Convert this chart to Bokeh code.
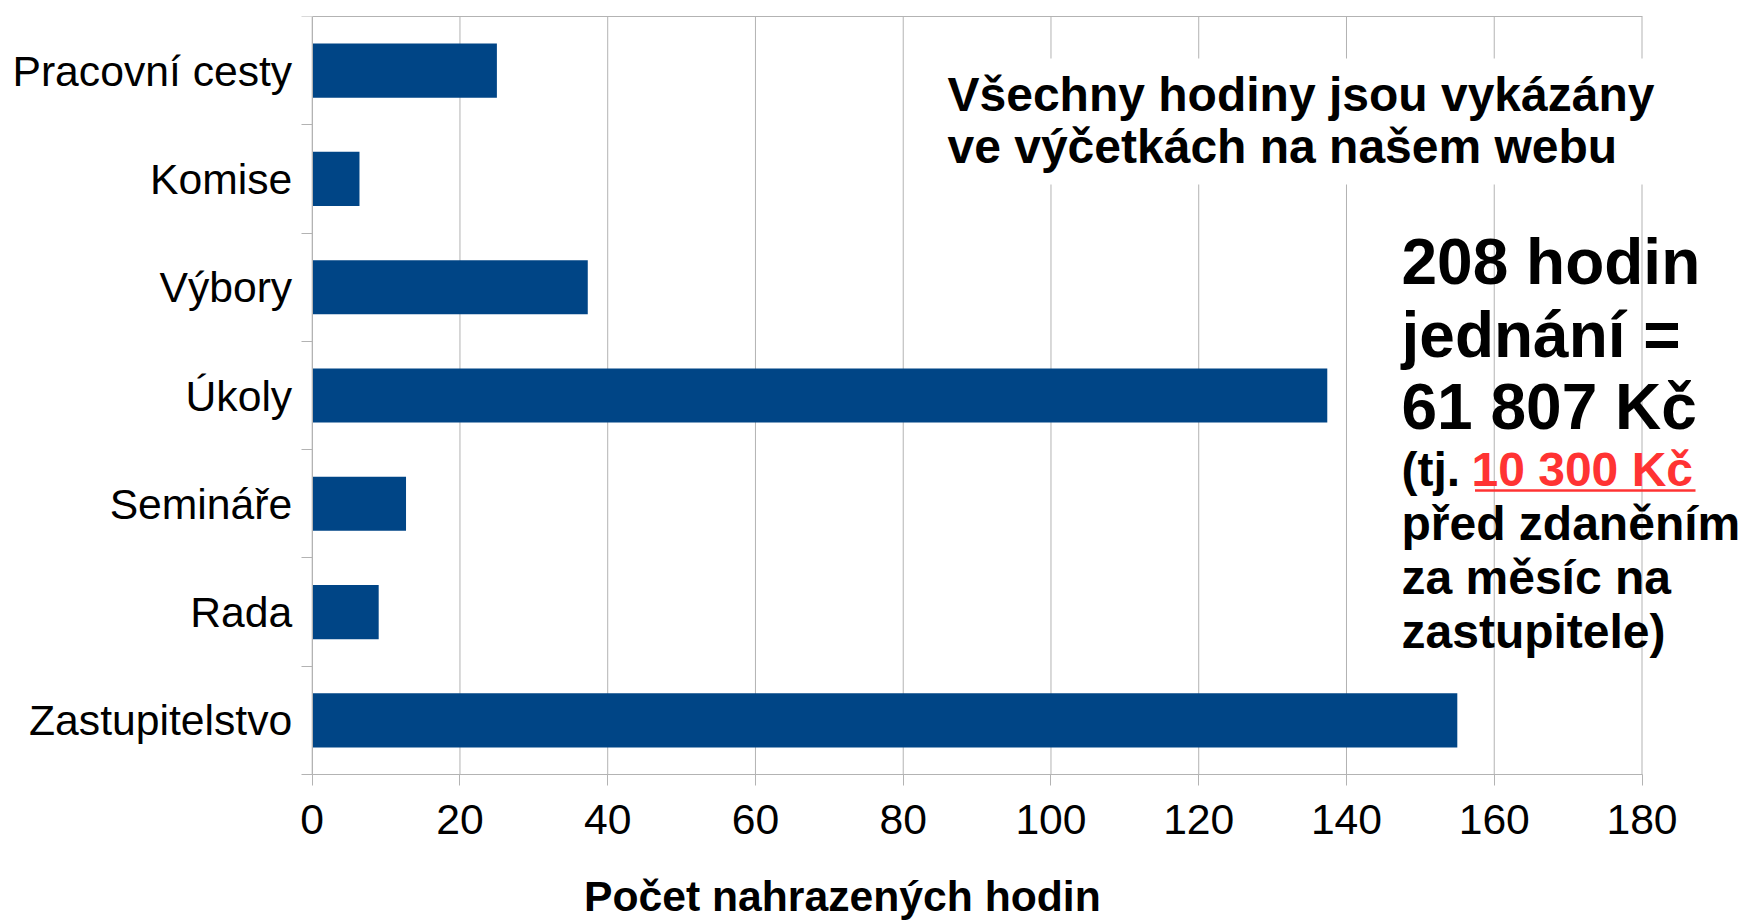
from bokeh.plotting import figure
from bokeh.models import (Range1d, FixedTicker, Label, BoxAnnotation, LinearAxis)
from bokeh.embed import file_html
from bokeh.resources import INLINE

# ---- data ----
categories = ["Pracovní cesty", "Komise", "Výbory", "Úkoly", "Semináře", "Rada", "Zastupitelstvo"]
hours = [25.0, 6.4, 37.3, 137.4, 12.7, 9.0, 155.0]
x_ticks = [0, 20, 40, 60, 80, 100, 120, 140, 160, 180]
axis_title = "Počet nahrazených hodin"
note_lines = ["Všechny hodiny jsou vykázány", "ve výčetkách na našem webu"]
big_lines = ["208 hodin", "jednání =", "61 807 Kč"]
small_prefix = "(tj. "
small_red = "10 300 Kč"
small_lines = ["před zdaněním", "za měsíc na", "zastupitele)"]

# ---- layout (page pixels, top-left origin) ----
W, H = 1745, 922
FT = 16                   # frame top (top border line)
AXIS_X = 311.7            # where x = 0 sits (y axis line)
AXIS_Y = 774              # where y = 0 sits (x axis line)
X180 = 1641.5             # where the 180 gridline sits
n = len(categories)
KX = (X180 - AXIS_X) / x_ticks[-1]
X_MIN, X_END = -AXIS_X / KX, (W - AXIS_X) / KX      # frame spans the full width
Y_MIN = -n * (H - AXIS_Y) / (AXIS_Y - FT)           # frame runs to the bottom edge
FONT = "Liberation Sans"
BAR = "#004586"
GRID = "#b3b3b3"
RED = "#ff3333"
BASE_FIX = 0.36           # baseline correction for Label text (x font size)

ypos = [n - i - 0.5 for i in range(n)]

p = figure(width=W, height=H, output_backend="svg", toolbar_location=None,
           x_range=Range1d(X_MIN, X_END), y_range=Range1d(Y_MIN, n),
           min_border_left=0, min_border_top=FT, min_border_right=0,
           min_border_bottom=0, background_fill_color="white",
           border_fill_color="white", outline_line_color=None)

# vertical gridlines, only over the category area
p.segment(x0=x_ticks, y0=[0] * len(x_ticks), x1=x_ticks, y1=[n] * len(x_ticks),
          line_color=GRID, line_width=1, level="underlay")

p.hbar(y=ypos, right=hours, left=0, height=0.5, color=BAR, line_color=None)

# x axis, pinned at y = 0 inside the frame
xa = p.xaxis[0]
xa.fixed_location = 0
xa.ticker = FixedTicker(ticks=x_ticks)
xa.bounds = (x_ticks[0], x_ticks[-1])
xa.axis_line_color = GRID
xa.major_tick_line_color = GRID
xa.major_tick_out = 11
xa.major_tick_in = 0
xa.minor_tick_line_color = None
xa.major_label_text_font = FONT
xa.major_label_text_font_size = "42.67px"
xa.major_label_text_color = "black"
xa.major_label_standoff = 19
p.xgrid.visible = False

# top border line as a bare axis
top = LinearAxis(ticker=FixedTicker(ticks=[]), bounds=(x_ticks[0], x_ticks[-1]),
                 axis_line_color=GRID, major_tick_line_color=None,
                 minor_tick_line_color=None, major_tick_out=0, major_tick_in=0,
                 major_label_text_font_size="0px", major_label_standoff=0)
p.add_layout(top, "above")

# y axis pinned at x = 0: labels at centres, tick marks at category boundaries
ya = p.yaxis[0]
ya.fixed_location = 0
ya.ticker = FixedTicker(ticks=ypos, minor_ticks=list(range(n + 1)))
ya.bounds = (0, n)
ya.major_label_overrides = {y: c for y, c in zip(ypos, categories)}
ya.axis_line_color = GRID
ya.major_tick_line_color = None
ya.major_tick_out = 0
ya.major_tick_in = 0
ya.minor_tick_line_color = GRID
ya.minor_tick_out = 11
ya.minor_tick_in = 0
ya.major_label_text_font = FONT
ya.major_label_text_font_size = "42.67px"
ya.major_label_text_color = "black"
ya.major_label_standoff = 9
p.ygrid.grid_line_color = None


# helpers: page coords -> frame screen units (frame = whole width, down to bottom)
def sx(x):
    return x


def sy(y):
    return H - y


def label(x, base, text, size_px, color="black"):
    p.add_layout(Label(x=sx(x), y=sy(base - BASE_FIX * size_px),
                       x_units="screen", y_units="screen",
                       text=text, text_font=FONT, text_font_size=f"{size_px}px",
                       text_font_style="bold", text_color=color,
                       text_baseline="alphabetic", text_align="left"))


def box(l, r, t, b, color):
    p.add_layout(BoxAnnotation(left=sx(l), right=sx(r), top=sy(t), bottom=sy(b),
                               left_units="screen", right_units="screen",
                               top_units="screen", bottom_units="screen",
                               fill_color=color, fill_alpha=1.0, line_color=None,
                               level="annotation"))


# white box behind the top note
box(933, 1662, 58, 184, "white")
for i, t in enumerate(note_lines):
    label(947, 111.7 + i * 51.6, t, 48)

for i, t in enumerate(big_lines):
    label(1401, 285 + i * 72.5, t, 64)

label(1401, 486.7, small_prefix, 48)
label(1471, 486.7, small_red, 48, color=RED)
box(1474.5, 1695, 488.7, 491.3, RED)
for i, t in enumerate(small_lines):
    label(1401, 540 + i * 54, t, 48)

# axis title, left-aligned as in the reference, kept just inside the bottom edge
label(583.5, 911, axis_title, 42.67)

open("out.html", "w").write(file_html(p, INLINE))
